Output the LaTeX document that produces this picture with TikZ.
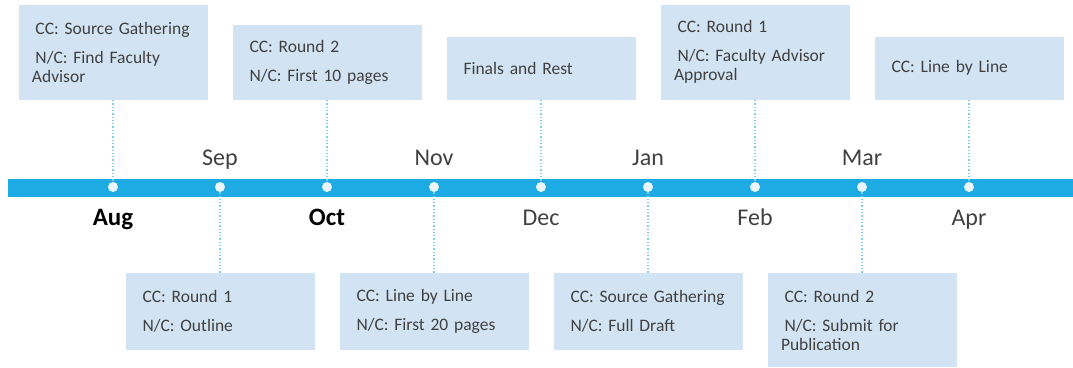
\documentclass[tikz,border=0pt]{standalone}
\usepackage{fontspec}
\setmainfont{Carlito}
\definecolor{barblue}{HTML}{1EAAE2}
\definecolor{boxblue}{HTML}{D2E4F4}
\definecolor{dotblue}{HTML}{EAF6FC}
\definecolor{linkblue}{HTML}{7FCDEE}
\definecolor{txtgray}{HTML}{404040}
\tikzset{
    box/.style={rectangle, fill=boxblue, minimum width=189pt, text width=165pt, inner xsep=12pt, inner ysep=0pt, align=left, text=txtgray, font=\fontsize{17.5}{19}\selectfont},
    dot/.style={circle, fill=dotblue, inner sep=0pt, minimum size=10pt},
    link/.style={linkblue, dotted, line width=1.3pt},
    month/.style={anchor=base, text=txtgray, font=\fontsize{24}{26}\selectfont},
    keymonth/.style={month, text=black, font=\fontsize{25}{27}\selectfont\bfseries}
}
\newcommand{\pin}{\hspace*{5pt}}
\newcommand{\wrap}{\hspace*{1.5pt}}
\newcommand{\para}{\\[10pt]\pin}
\begin{document}
\begin{tikzpicture}[x=1pt, y=-1pt]
    \useasboundingbox (0,0) rectangle (1073,367);
    \fill[barblue] (8,178.5) rectangle (1073,196.5);
    \foreach \m/\st/\dy [count=\i] in {Aug/keymonth/-38, Sep/month/22, Oct/keymonth/-38, Nov/month/22, Dec/month/-38, Jan/month/22, Feb/month/-38, Mar/month/22, Apr/month/-38} {
        \node[dot] (d\i) at ({113+107*(\i-1)},187) {};
        \node[\st] (m\i) at ([yshift=\dy pt]d\i.center) {\m};
    }

    \node[box, minimum height=95pt, anchor=south] (aug) at (d1 |- 0,100) {\pin CC: Source Gathering\para N/C: Find Faculty\\\wrap Advisor};
    \node[box, minimum height=75pt, anchor=south] (oct) at (d3 |- 0,100) {\pin CC: Round 2\para N/C: First 10 pages};
    \node[box, minimum height=63pt, anchor=south] (dec) at (d5 |- 0,100) {\pin Finals and Rest};
    \node[box, minimum height=95pt, anchor=south] (feb) at (d7 |- 0,100) {\pin CC: Round 1\para N/C: Faculty Advisor\\\wrap Approval};
    \node[box, minimum height=63pt, anchor=south] (apr) at (d9 |- 0,100) {\pin CC: Line by Line};

    \node[box, minimum height=77pt, anchor=north] (sep) at (d2 |- 0,273) {\pin CC: Round 1\para N/C: Outline};
    \node[box, minimum height=77pt, anchor=north] (nov) at (d4 |- 0,273) {\pin CC: Line by Line\para N/C: First 20 pages};
    \node[box, minimum height=77pt, anchor=north] (jan) at (d6 |- 0,273) {\pin CC: Source Gathering\para N/C: Full Draft};
    \node[box, minimum height=94pt, anchor=north] (mar) at (d8 |- 0,273) {\pin CC: Round 2\para N/C: Submit for\\\wrap Publication};

    \draw[link] (aug.south) -- (d1.north);
    \draw[link] (oct.south) -- (d3.north);
    \draw[link] (dec.south) -- (d5.north);
    \draw[link] (feb.south) -- (d7.north);
    \draw[link] (apr.south) -- (d9.north);
    \draw[link] (d2.south) -- (sep.north);
    \draw[link] (d4.south) -- (nov.north);
    \draw[link] (d6.south) -- (jan.north);
    \draw[link] (d8.south) -- (mar.north);
\end{tikzpicture}
\end{document}
